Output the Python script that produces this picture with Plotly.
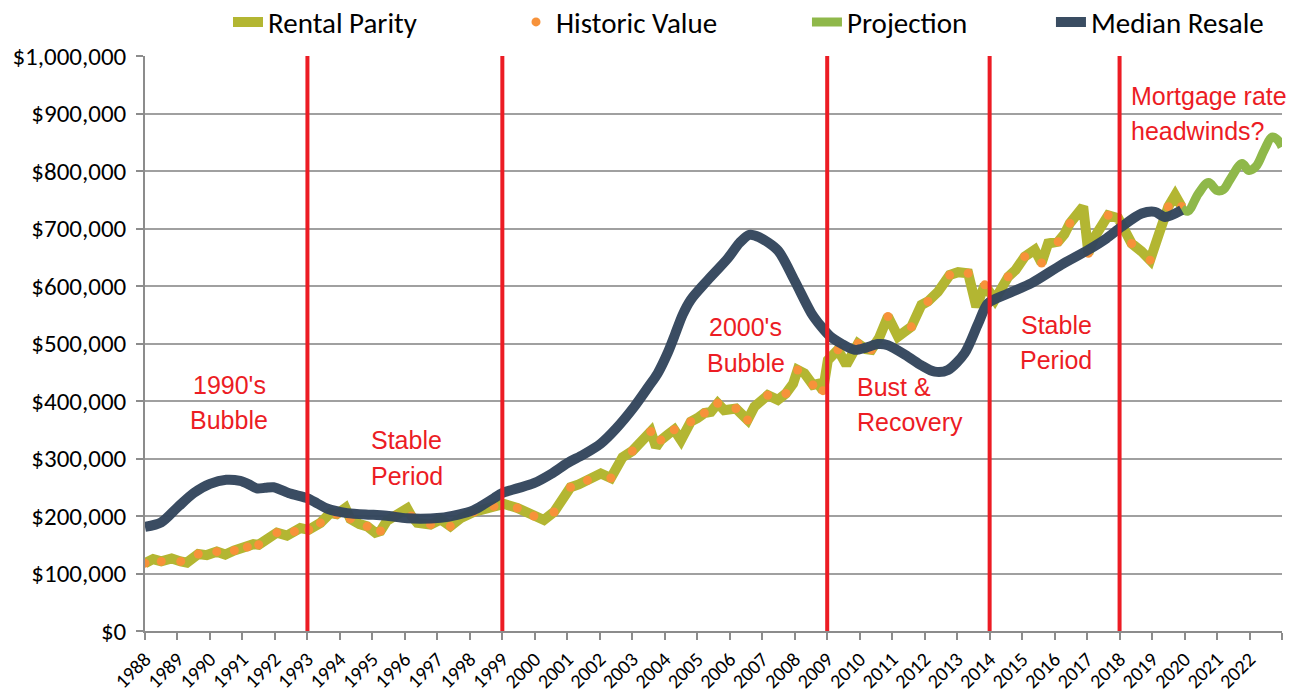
import plotly.graph_objects as go

# ---- data (values in dollars, x as decimal years) ----
rental_years = [
    1988.0, 1988.25, 1988.5, 1988.82, 1989.1, 1989.29, 1989.64, 1989.9, 1990.21, 1990.47,
    1990.75, 1990.93, 1991.15, 1991.34, 1991.5, 1991.7, 1992.06, 1992.37, 1992.6, 1992.78,
    1993.04, 1993.2, 1993.4, 1993.7, 1993.9, 1994.17, 1994.32, 1994.6, 1994.84, 1995.09,
    1995.25, 1995.45, 1995.7, 1996.07, 1996.2, 1996.38, 1996.79, 1997.1, 1997.4, 1997.71,
    1998.12, 1998.4, 1998.74, 1999.05, 1999.46, 1999.75, 1999.97, 2000.28, 2000.59, 2000.85,
    2001.1, 2001.35, 2001.62, 2002.03, 2002.34, 2002.7, 2003.0, 2003.26, 2003.57, 2003.73,
    2003.88, 2004.1, 2004.29, 2004.5, 2004.8, 2005.0, 2005.22, 2005.42, 2005.63, 2005.83,
    2006.19, 2006.35, 2006.55, 2006.76, 2007.17, 2007.48, 2007.73, 2007.95, 2008.09, 2008.3,
    2008.56, 2008.72, 2008.87, 2009.02, 2009.33, 2009.59, 2009.95, 2010.2, 2010.36, 2010.6,
    2010.87, 2011.18, 2011.59, 2011.9, 2012.1, 2012.41, 2012.77, 2013.03, 2013.34, 2013.59,
    2013.85, 2014.16, 2014.57, 2014.8, 2015.08, 2015.39, 2015.6, 2015.8, 2016.11, 2016.3,
    2016.47, 2016.88, 2017.04, 2017.24, 2017.65, 2017.96, 2018.37, 2018.68, 2018.94, 2019.25,
    2019.5, 2019.71, 2019.91,
]
rental_parity = [
    118000, 125000, 121000, 126000, 121000, 119000, 134000, 132000, 138000, 133000,
    140000, 144000, 146000, 151000, 150000, 158000, 171000, 166000, 173000, 179000,
    176000, 180000, 188000, 205000, 203000, 214000, 195000, 186000, 182000, 171000,
    174000, 192000, 200000, 213000, 200000, 188000, 185000, 194000, 182000, 196000,
    207000, 210000, 217000, 221000, 214000, 206000, 200000, 193000, 207000, 230000,
    250000, 255000, 262000, 274000, 266000, 302000, 313000, 326000, 347000, 320000,
    332000, 342000, 350000, 332000, 364000, 370000, 379000, 381000, 396000, 384000,
    387000, 378000, 367000, 390000, 410000, 402000, 413000, 430000, 454000, 448000,
    428000, 430000, 418000, 471000, 489000, 463000, 500000, 490000, 489000, 510000,
    547000, 512000, 529000, 567000, 573000, 590000, 619000, 624000, 622000, 564000,
    602000, 576000, 616000, 628000, 651000, 663000, 640000, 674000, 677000, 690000,
    709000, 738000, 657000, 686000, 723000, 718000, 674000, 660000, 645000, 697000,
    738000, 758000, 738000,
]

# historic observations sit on the rental-parity path (every other reading)
historic_years = rental_years[::2] + [rental_years[-1]]
historic_value = rental_parity[::2] + [rental_parity[-1]]

projection_years = [2019.91, 2020.1, 2020.43, 2020.74, 2021.0, 2021.2, 2021.4,
                    2021.77, 2021.98, 2022.2, 2022.45, 2022.69, 2022.85, 2023.0]
projection = [735000, 730000, 761000, 780000, 766000, 768000, 785000,
              813000, 801000, 808000, 836000, 859000, 855000, 842000]

resale_years = [
    1988.0, 1988.5, 1989.0, 1989.5, 1990.0, 1990.5, 1990.93, 1991.2, 1991.44, 1991.7,
    1991.96, 1992.47, 1992.99, 1993.3, 1993.6, 1994.22, 1995.03, 1995.5, 1996.07, 1997.1,
    1997.61, 1998.11, 1998.74, 1999.0, 1999.46, 1999.97, 2000.5, 2001.0, 2001.5, 2002.03,
    2002.5, 2003.06, 2003.5, 2003.78, 2004.1, 2004.29, 2004.55, 2004.8, 2005.32, 2005.94,
    2006.3, 2006.6, 2006.9, 2007.48, 2007.99, 2008.51, 2008.81, 2009.1, 2009.43, 2009.84,
    2010.2, 2010.56, 2010.87, 2011.49, 2011.9, 2012.31, 2012.72, 2013.23, 2013.65, 2013.95,
    2014.57, 2015.29, 2016.21, 2017.04, 2017.6, 2018.06, 2018.68, 2019.09, 2019.4, 2019.91,
]
median_resale = [
    181000, 189000, 215000, 240000, 256000, 263000, 261000, 255000, 248000, 249000,
    250000, 239000, 231000, 222000, 213000, 205000, 202000, 200000, 196000, 197000,
    202000, 210000, 231000, 240000, 248000, 257000, 273000, 292000, 307000, 326000,
    352000, 390000, 425000, 448000, 485000, 512000, 550000, 576000, 610000, 648000,
    675000, 689000, 685000, 662000, 610000, 553000, 530000, 512000, 500000, 489000,
    493000, 499000, 497000, 477000, 462000, 451000, 454000, 483000, 535000, 570000,
    587000, 605000, 637000, 663000, 683000, 703000, 726000, 729000, 720000, 732000,
]

period_breaks = [1993, 1999, 2009, 2014, 2018]
tick_years = list(range(1988, 2024))
tick_text = [str(y) for y in range(1988, 2023)] + [""]
y_ticks = list(range(0, 1000001, 100000))

# period labels: (x year, y value, text, anchor)
period_labels = [
    (1990.6, 428000, "1990's", "center"),
    (1990.6, 367000, "Bubble", "center"),
    (1996.05, 332000, "Stable", "center"),
    (1996.05, 270000, "Period", "center"),
    (2006.5, 529000, "2000's", "center"),
    (2006.5, 466000, "Bubble", "center"),
    (2009.85, 425000, "Bust &", "left"),
    (2009.85, 364000, "Recovery", "left"),
    (2016.05, 532000, "Stable", "center"),
    (2016.05, 471000, "Period", "center"),
    (2018.3, 931000, "Mortgage rate", "left"),
    (2018.3, 870000, "headwinds?", "left"),
]

RED = "#ec1c24"
OLIVE = "#b3b632"
ORANGE = "#f7923a"
GREEN = "#8fb84a"
NAVY = "#34475d"
UI_FONT = "Carlito, Lato, 'Open Sans', sans-serif"

fig = go.Figure()

fig.add_trace(go.Scatter(
    x=rental_years, y=rental_parity, name="Rental Parity", mode="lines",
    line=dict(color=OLIVE, width=10), legend="legend",
))
fig.add_trace(go.Scatter(
    x=historic_years, y=historic_value, name="Historic Value", mode="markers",
    marker=dict(color=ORANGE, size=9), legend="legend2",
))
fig.add_trace(go.Scatter(
    x=projection_years, y=projection, name="Projection", mode="lines",
    line=dict(color=GREEN, width=9, shape="spline", smoothing=1.0), legend="legend3",
))
fig.add_trace(go.Scatter(
    x=resale_years, y=median_resale, name="Median Resale", mode="lines",
    line=dict(color=NAVY, width=10, shape="spline", smoothing=0.8),
    opacity=0.97, legend="legend4",
))

for yr in period_breaks:
    fig.add_shape(type="line", xref="x", yref="paper", x0=yr, x1=yr, y0=0, y1=1,
                  line=dict(color=RED, width=4), layer="above")

for x, y, txt, anchor in period_labels:
    fig.add_annotation(x=x, y=y, xref="x", yref="y", text=txt, showarrow=False,
                       xanchor=anchor, yanchor="middle",
                       font=dict(family="'Liberation Sans', Arial, sans-serif",
                                 size=25, color=RED))


def legend_box(xpos):
    return dict(orientation="h", x=xpos, xanchor="left", y=1.059, yanchor="middle",
                font=dict(family=UI_FONT, size=29, color="#000000"),
                itemwidth=30, bgcolor="rgba(0,0,0,0)")


fig.update_layout(
    width=1293, height=692,
    margin=dict(l=145, r=11, t=56, b=61, autoexpand=False),
    paper_bgcolor="white", plot_bgcolor="white",
    font=dict(family=UI_FONT, color="#000000"),
    showlegend=True,
    legend=legend_box(0.073),
    legend2=legend_box(0.3263),
    legend3=legend_box(0.5822),
    legend4=legend_box(0.7968),
    xaxis=dict(
        range=[1988, 2023], tickmode="array", tickvals=tick_years, ticktext=tick_text,
        tickangle=-45, tickfont=dict(family=UI_FONT, size=20, color="#000000"),
        showgrid=False, zeroline=False, showline=True, linecolor="#8c8c8c", linewidth=1.5,
        ticks="outside", ticklen=7, tickcolor="#8c8c8c", tickwidth=1.5,
        ticklabelstandoff=0,
    ),
    yaxis=dict(
        range=[0, 1000000], tickmode="array", tickvals=y_ticks, tickformat="$,.0f",
        tickfont=dict(family=UI_FONT, size=25, color="#000000"),
        showgrid=True, gridcolor="#a0a0a0", gridwidth=1.5, zeroline=False,
        showline=True, linecolor="#8c8c8c", linewidth=1.5,
        ticks="outside", ticklen=7, tickcolor="#8c8c8c", tickwidth=1.5,
        ticklabelstandoff=5,
    ),
)

fig.write_html("out.html")
